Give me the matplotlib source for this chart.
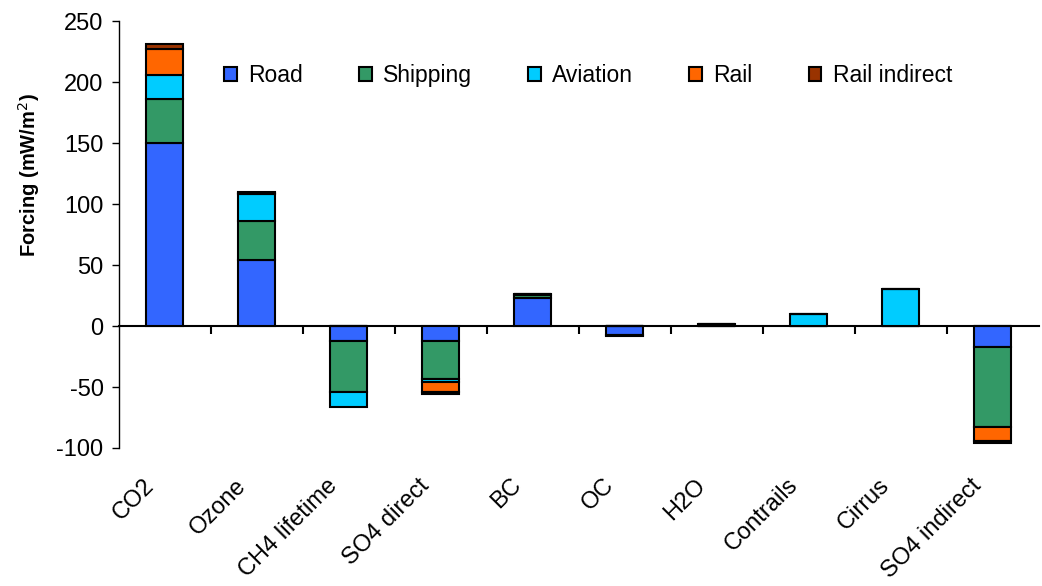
import matplotlib.pyplot as plt
import numpy as np

plt.rcParams['font.family'] = ['Liberation Sans', 'DejaVu Sans']
plt.rcParams['axes.unicode_minus'] = False

categories = ['CO2', 'Ozone', 'CH4 lifetime', 'SO4 direct', 'BC', 'OC',
              'H2O', 'Contrails', 'Cirrus', 'SO4 indirect']

# forcing per sector, mW/m2
road = [150, 54, -12, -12, 23, -7, 0, 0, 0, -17]
shipping = [36, 32, -42, -31.5, 2.5, -1, 0, 0, 0, -66]
aviation = [20, 22, -12, -2.5, 0.5, 0, 1.5, 10, 30, 0]
rail = [21, 1, 0, -8, 0, 0, 0, 0, 0, -11]
rail_indirect = [4, 0.5, 0, -2, 0, 0, 0, 0, 0, -1.5]

series = [('Road', road, '#3366ff'),
          ('Shipping', shipping, '#339966'),
          ('Aviation', aviation, '#00ccff'),
          ('Rail', rail, '#ff6600'),
          ('Rail indirect', rail_indirect, '#993300')]

fig = plt.figure(figsize=(10.42, 5.86), dpi=100)
ax = fig.add_axes([0.114, 0.2355, 0.883, 0.7285])

# spine position first: moving it resets the tick objects
ax.spines['top'].set_visible(False)
ax.spines['right'].set_visible(False)
ax.spines['bottom'].set_position(('data', 0))
ax.spines['bottom'].set_linewidth(1.5)
ax.spines['left'].set_linewidth(1)

x = np.arange(len(categories))
pos = np.zeros(len(categories))
neg = np.zeros(len(categories))
for name, vals, color in series:
    v = np.array(vals, dtype=float)
    base = np.where(v >= 0, pos, neg)
    ax.bar(x, v, 0.4, bottom=base, color=color, edgecolor='black',
           linewidth=1.5, label=name, zorder=3)
    pos += np.where(v >= 0, v, 0)
    neg += np.where(v < 0, v, 0)

ax.set_xlim(-0.5, len(categories) - 0.5)
ax.set_ylim(-100, 250)
ax.set_yticks(np.arange(-100, 251, 50))
ax.tick_params(axis='y', labelsize=17, direction='out', length=5, width=1, pad=6)

# tick marks between categories; category names drawn below the plot area
ax.set_xticks(x)
ax.set_xticklabels([])
ax.tick_params(axis='x', which='major', length=0)
ax.set_xticks(np.arange(0.5, len(categories) - 0.5), minor=True)
ax.tick_params(axis='x', which='minor', direction='out', length=6, width=1.5)
for i, name in enumerate(categories):
    ax.annotate(name, xy=(i, 0), xycoords=('data', 'axes fraction'),
                xytext=(-16, -19), textcoords='offset points',
                rotation=45, rotation_mode='anchor', ha='right', va='top',
                fontsize=17)

ax.set_ylabel('Forcing (mW/m$^2$)', fontsize=14.5, fontweight='bold')
ax.yaxis.set_label_coords(-0.083, 0.64)

ax.legend(loc='upper left', bbox_to_anchor=(0.092, 0.947), ncol=5, frameon=False,
          fontsize=16.5, handlelength=0.55, handleheight=0.55, handletextpad=0.5,
          columnspacing=2.45)

fig.savefig('out.png', dpi=100, facecolor='white')
